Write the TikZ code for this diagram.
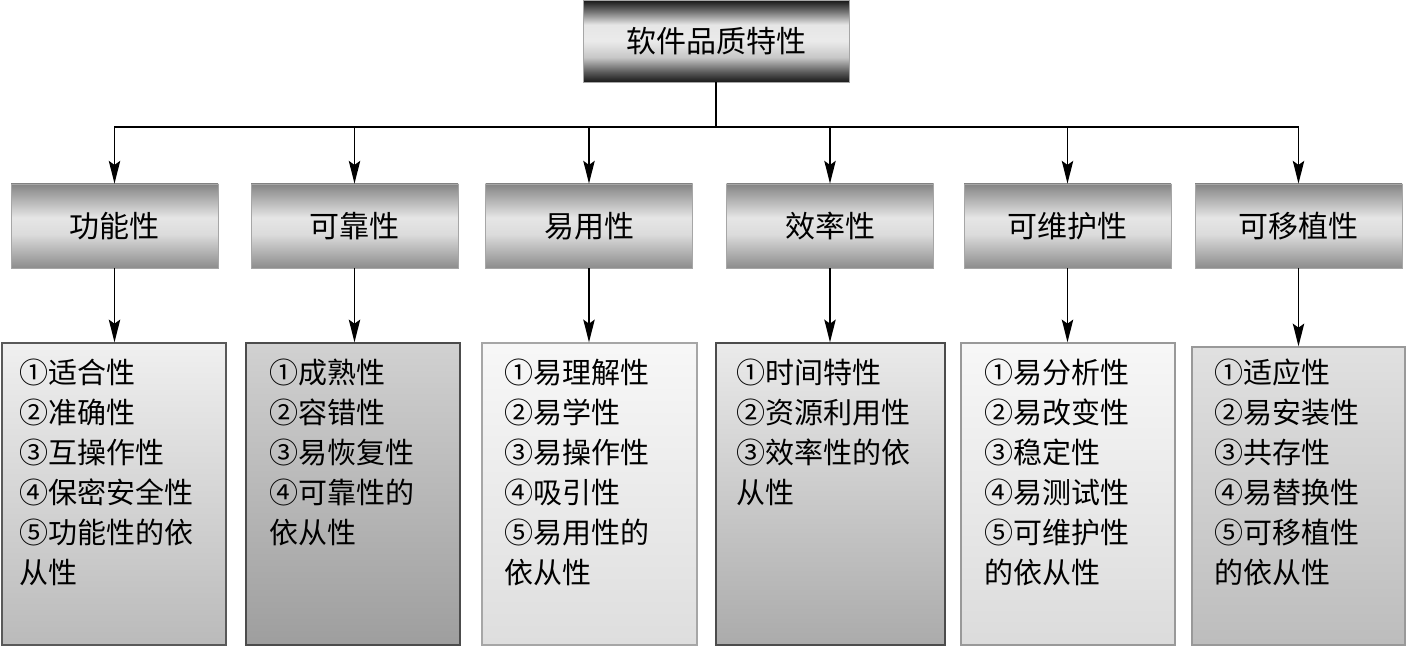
\documentclass[tikz,border=0pt]{standalone}
\usepackage{fontspec}
\newfontfamily\cjk{Noto Sans CJK SC}
\usetikzlibrary{arrows.meta}
\pgfdeclareverticalshading{topshade}{100bp}{%
color(0bp)=(black!90);
color(25bp)=(black!90);
color(31bp)=(black!65);
color(40bp)=(black!22);
color(50bp)=(black!8);
color(60bp)=(black!10);
color(68bp)=(black!55);
color(75bp)=(black!92);
color(100bp)=(black!92)}
\pgfdeclareverticalshading{midshade}{100bp}{%
color(0bp)=(black!45);
color(25bp)=(black!45);
color(45bp)=(black!14);
color(55bp)=(black!10);
color(75bp)=(black!48);
color(100bp)=(black!48)}
\tikzset{
  topbox/.style={shading=topshade, draw=black!35, line width=0.6pt,
    minimum width=199.5pt, minimum height=61.5pt, inner sep=0pt,
    font=\cjk\fontsize{22.5}{27}\selectfont},
  midbox/.style={shading=midshade, draw=black!35, line width=0.6pt,
    minimum width=155.25pt, minimum height=63pt, inner sep=0pt,
    font=\cjk\fontsize{22.5}{27}\selectfont},
  lowbox/.style={draw=black!65, line width=1pt,
    minimum width=160.5pt, minimum height=226.5pt, inner sep=0pt},
  txt/.style={anchor=north west, inner sep=0pt, align=left,
    font=\cjk\fontsize{21.75}{30}\selectfont},
  arr/.style={line width=1.4pt, -{Stealth[length=17pt, width=8.5pt, inset=3pt]}},
  ln/.style={line width=1.4pt}
}
\begin{document}
\begin{tikzpicture}[x=0.75pt,y=-0.75pt]
\useasboundingbox (0,0) rectangle (1406,649);

\node[topbox] (top) at (716,41) {软件品质特性};

\node[midbox] (m1) at (114.5,226) {功能性};
\node[midbox] (m2) at (354.5,226) {可靠性};
\node[midbox] (m3) at (589,226) {易用性};
\node[midbox] (m4) at (830,226) {效率性};
\node[midbox] (m5) at (1067.5,226) {可维护性};
\node[midbox] (m6) at (1298.5,226) {可移植性};

\node[lowbox, minimum width=168pt, top color=black!6, bottom color=black!27] (b1) at (114,494) {};
\node[lowbox, minimum width=160.5pt, draw=black!70, top color=black!18, bottom color=black!38] (b2) at (353,494) {};
\node[lowbox, minimum width=161.25pt, draw=black!35, top color=black!3, bottom color=black!13] (b3) at (589.5,494) {};
\node[lowbox, minimum width=171.75pt, draw=black!70, top color=black!8, bottom color=black!33] (b4) at (830.5,494) {};
\node[lowbox, minimum width=160.5pt, draw=black!40, top color=black!3, bottom color=black!14] (b5) at (1068,494) {};
\node[lowbox, minimum width=159.75pt, minimum height=223.5pt, draw=black!40, top color=black!12, bottom color=black!26] (b6) at (1298.5,496) {};

\node[txt] (t1) at (19,359) {①适合性\\②准确性\\③互操作性\\④保密安全性\\⑤功能性的依\\从性};
\node[txt] (t2) at (269,359) {①成熟性\\②容错性\\③易恢复性\\④可靠性的\\依从性};
\node[txt] (t3) at (504,359) {①易理解性\\②易学性\\③易操作性\\④吸引性\\⑤易用性的\\依从性};
\node[txt] (t4) at (736,359) {①时间特性\\②资源利用性\\③效率性的依\\从性};
\node[txt] (t5) at (984,359) {①易分析性\\②易改变性\\③稳定性\\④易测试性\\⑤可维护性\\的依从性};
\node[txt] (t6) at (1214,359) {①适应性\\②易安装性\\③共存性\\④易替换性\\⑤可移植性\\的依从性};

\coordinate (bus) at (716,127);
\draw[ln] (top.south) -- (bus);
\foreach \i in {1,...,6}{
  \draw[arr] (bus) -| (m\i.north);
  \draw[arr] (m\i.south) -- (m\i.south |- b\i.north);
}
\end{tikzpicture}
\end{document}
